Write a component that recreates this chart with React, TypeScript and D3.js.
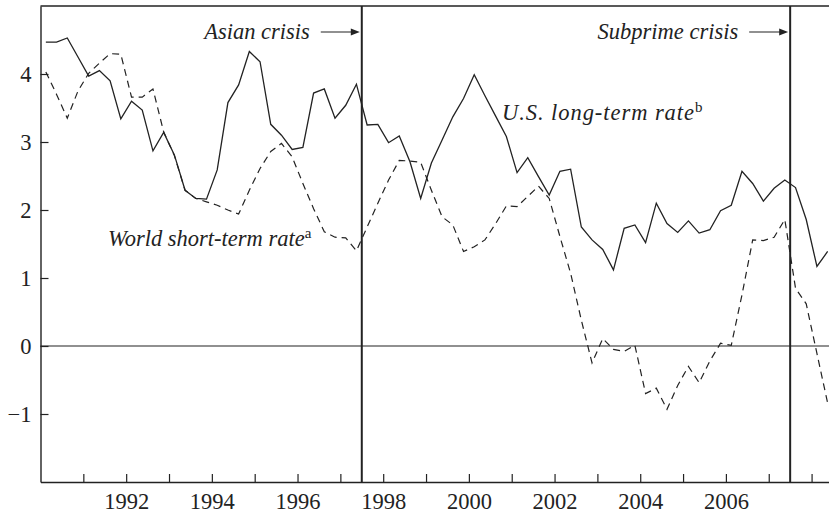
import React, { useRef, useEffect } from 'react'
import * as d3 from 'd3'

// quarterly observations, 1990Q1 .. 2008Q2
const startYear = 1990
const usLongTerm = [
  4.47, 4.47, 4.53, 4.25, 3.97, 4.05, 3.9, 3.34, 3.6, 3.47,
  2.87, 3.14, 2.81, 2.29, 2.17, 2.16, 2.59, 3.58, 3.84, 4.33,
  4.18, 3.26, 3.1, 2.89, 2.92, 3.72, 3.78, 3.35, 3.54, 3.85,
  3.25, 3.26, 2.99, 3.09, 2.71, 2.17, 2.69, 3.03, 3.37, 3.64,
  3.99, 3.68, 3.38, 3.08, 2.55, 2.77, 2.49, 2.22, 2.57, 2.6,
  1.75, 1.56, 1.42, 1.12, 1.73, 1.78, 1.52, 2.1, 1.8, 1.67,
  1.84, 1.66, 1.71, 1.99, 2.07, 2.57, 2.39, 2.13, 2.32, 2.44,
  2.33, 1.86, 1.17, 1.39,
]
const worldShortTerm = [
  4.03, 3.7, 3.35, 3.75, 4.01, 4.16, 4.3, 4.29, 3.66, 3.66,
  3.78, 3.15, 2.8, 2.29, 2.17, 2.12, 2.07, 2.0, 1.94, 2.29,
  2.61, 2.86, 2.98, 2.78, 2.39, 2.02, 1.68, 1.6, 1.59, 1.4,
  1.75, 2.1, 2.44, 2.73, 2.72, 2.7, 2.29, 1.9, 1.78, 1.39,
  1.46, 1.56, 1.8, 2.06, 2.05, 2.2, 2.35, 2.17, 1.61, 1.07,
  0.38, -0.25, 0.11, -0.05, -0.08, 0.01, -0.7, -0.62, -0.93, -0.58,
  -0.3, -0.54, -0.22, 0.04, 0.01, 0.75, 1.56, 1.55, 1.6, 1.86,
  0.85, 0.62, -0.11, -0.84,
]
const yTicks = [-1, 0, 1, 2, 3, 4]
const xTicks = [1991, 1992, 1993, 1994, 1995, 1996, 1997, 1998, 1999, 2000, 2001, 2002, 2003, 2004, 2005, 2006, 2007, 2008]
const xLabelled = [1992, 1994, 1996, 1998, 2000, 2002, 2004, 2006]
const crises = [
  { label: 'Asian crisis', date: 1997.5 },
  { label: 'Subprime crisis', date: 2007.5 },
]

const W = 829
const H = 513
const INK = '#222'
const FONT = '"Liberation Serif", "Times New Roman", serif'
const FS = '22.5px'

export default function App() {
  const ref = useRef<SVGSVGElement>(null)

  useEffect(() => {
    const svg = d3.select(ref.current)
    svg.selectAll('*').remove()

    const x = d3.scaleLinear().domain([1990, 2008.5]).range([40.5, 833])
    const y = d3.scaleLinear().domain([-2, 5]).range([482, 6])

    const qx = (i: number) => x(startYear + (i + 0.5) / 4)

    // top frame line
    svg.append('line')
      .attr('x1', x(1990)).attr('x2', W)
      .attr('y1', y(5)).attr('y2', y(5))
      .attr('stroke', INK).attr('stroke-width', 1.4)

    // zero line
    svg.append('line')
      .attr('x1', x(1990)).attr('x2', W)
      .attr('y1', y(0)).attr('y2', y(0))
      .attr('stroke', INK).attr('stroke-width', 1.2)

    // y axis
    const gy = svg.append('g')
      .attr('transform', `translate(${x(1990)},0)`)
      .call(
        d3.axisLeft(y)
          .tickValues(yTicks)
          .tickSize(-8)
          .tickSizeOuter(0)
          .tickPadding(9)
          .tickFormat(d3.format('d'))
      )
    // x axis
    const gx = svg.append('g')
      .attr('transform', `translate(0,${y(-2)})`)
      .call(
        d3.axisBottom(x)
          .tickValues(xTicks)
          .tickSize(-8)
          .tickSizeOuter(0)
          .tickPadding(11)
          .tickFormat((d) => (xLabelled.includes(+d) ? String(d) : ''))
      )
    for (const g of [gx, gy]) {
      g.select('.domain').attr('stroke', INK).attr('stroke-width', 1.4)
      g.selectAll('.tick line').attr('stroke', INK).attr('stroke-width', 1.2)
      g.selectAll('.tick text')
        .attr('fill', INK)
        .style('font-family', FONT)
        .style('font-size', FS)
    }

    // crisis markers
    crises.forEach((c) => {
      const cx = x(c.date)
      svg.append('line')
        .attr('x1', cx).attr('x2', cx)
        .attr('y1', y(5)).attr('y2', y(-2))
        .attr('stroke', INK).attr('stroke-width', 2)
      svg.append('text')
        .attr('x', cx - 52).attr('y', 39)
        .attr('text-anchor', 'end')
        .attr('fill', INK)
        .style('font-family', FONT).style('font-style', 'italic').style('font-size', FS)
        .text(c.label)
      svg.append('line')
        .attr('x1', cx - 41).attr('x2', cx - 8)
        .attr('y1', 32).attr('y2', 32)
        .attr('stroke', INK).attr('stroke-width', 1.2)
      svg.append('path')
        .attr('d', `M${cx - 2},32 L${cx - 11},28.5 L${cx - 11},35.5 Z`)
        .attr('fill', INK)
    })

    const line = d3.line<number>().x((d, i) => qx(i)).y((d) => y(d))

    svg.append('path')
      .datum(worldShortTerm)
      .attr('d', line)
      .attr('fill', 'none')
      .attr('stroke', INK)
      .attr('stroke-width', 1.2)
      .attr('stroke-dasharray', '7,5')

    svg.append('path')
      .datum(usLongTerm)
      .attr('d', line)
      .attr('fill', 'none')
      .attr('stroke', INK)
      .attr('stroke-width', 1.3)

    // series labels
    const label = (tx: number, ty: number, main: string, sup: string, len?: number) => {
      const t = svg.append('text')
        .attr('x', tx).attr('y', ty)
        .attr('fill', INK)
        .style('font-family', FONT).style('font-size', FS)
      const m = t.append('tspan').style('font-style', 'italic').text(main)
      if (len) m.attr('textLength', len).attr('lengthAdjust', 'spacing')
      t.append('tspan').attr('dy', -8).style('font-size', '15px').text(sup)
    }
    label(502, 120, 'U.S. long-term rate', 'b', 192)
    label(108, 246, 'World short-term rate', 'a')
  }, [])

  return (
    <svg
      ref={ref}
      width={W}
      height={H}
      style={{ position: 'absolute', left: 0, top: 0, background: '#fff' }}
    ></svg>
  )
}
